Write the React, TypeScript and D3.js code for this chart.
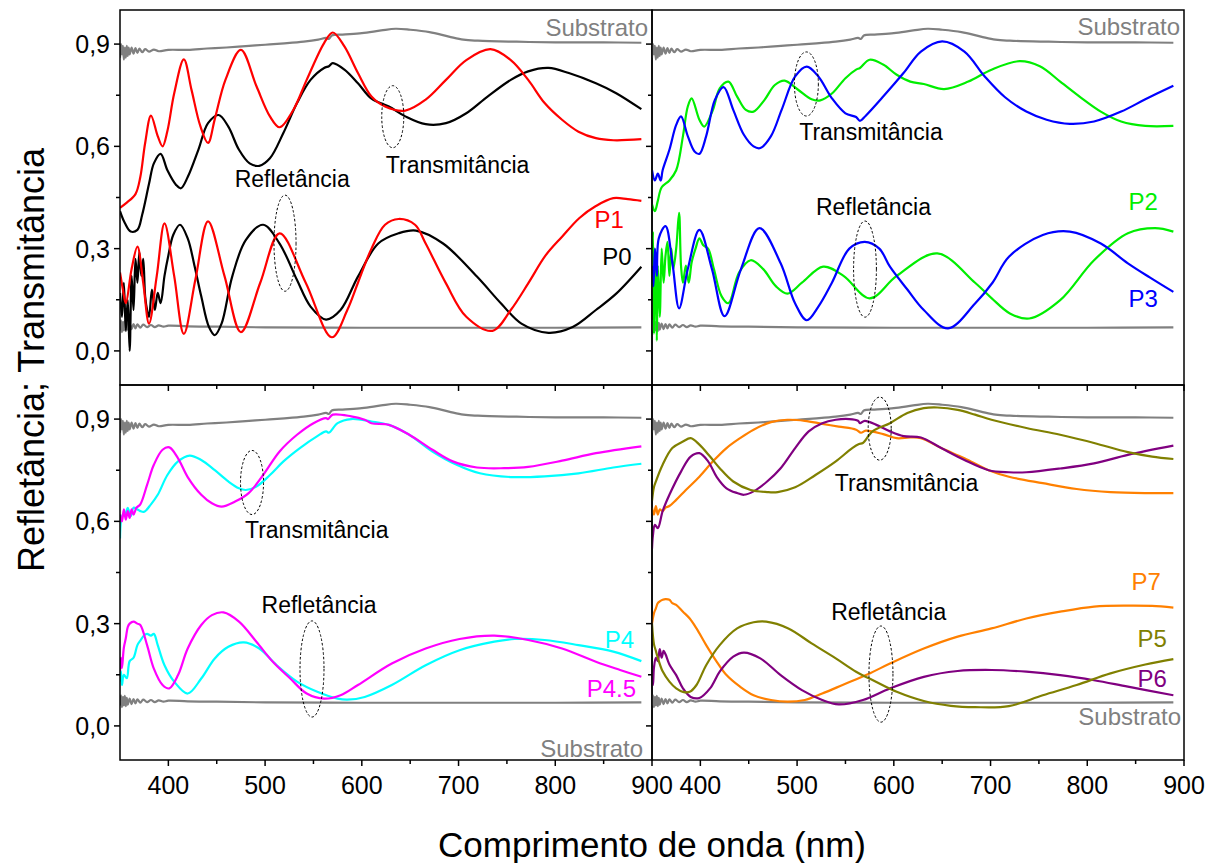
import React from 'react';
import * as d3 from 'd3';

type Pt = [number, number];

const W = 1219;
const H = 863;
const FONT = "'Liberation Sans', Arial, Helvetica, sans-serif";

const X_DOMAIN: Pt = [350, 900];
const Y_DOMAIN: Pt = [-0.1, 1.0];
const X_MAJOR = [400, 500, 600, 700, 800, 900];
const X_MINOR = [450, 550, 650, 750, 850];
const Y_MAJOR = [0, 0.3, 0.6, 0.9];
const Y_MINOR = [0.15, 0.45, 0.75];
const X_TITLE = 'Comprimento de onda (nm)';
const Y_TITLE = 'Refletância; Transmitância';

// Substrate (same in every panel)
const SUB_T: Pt[] = [[350,0.86],[351,0.9],[352,0.87],[353,0.895],[354,0.855],[355,0.89],[356,0.86],[357,0.895],[358,0.865],[359,0.89],[360,0.87],[362,0.89],[364,0.872],[366,0.888],[368,0.874],[370,0.887],[373,0.876],[376,0.885],[380,0.878],[385,0.884],[390,0.879],[400,0.883],[420,0.883],[440,0.887],[460,0.89],[480,0.894],[500,0.898],[520,0.902],[540,0.907],[555,0.913],[563,0.918],[566,0.915],[569,0.925],[580,0.928],[600,0.932],[620,0.94],[635,0.945],[650,0.942],[670,0.935],[690,0.922],[705,0.913],[720,0.91],[760,0.907],[800,0.905],[850,0.905],[889,0.904]];
const SUB_R: Pt[] = [[350,0.06],[351,0.09],[352,0.055],[353,0.085],[354,0.06],[355,0.088],[356,0.058],[357,0.082],[358,0.062],[360,0.08],[362,0.064],[364,0.079],[366,0.066],[368,0.078],[371,0.068],[374,0.077],[378,0.07],[382,0.076],[386,0.07],[390,0.075],[395,0.071],[400,0.074],[420,0.072],[450,0.071],[500,0.069],[600,0.068],[700,0.068],[800,0.068],[889,0.069]];

// Top-left: P0 (black), P1 (red)
const P0_T: Pt[] = [[350,0.41],[355,0.375],[361,0.35],[368,0.355],[373,0.4],[380,0.49],[385,0.55],[392,0.578],[399,0.53],[408,0.487],[413,0.477],[420,0.51],[431,0.59],[441,0.668],[452,0.692],[462,0.658],[473,0.59],[484,0.55],[494,0.543],[505,0.565],[519,0.64],[533,0.727],[547,0.795],[561,0.83],[566,0.835],[570,0.844],[582,0.825],[596,0.785],[610,0.74],[628,0.717],[645,0.688],[666,0.665],[687,0.668],[708,0.697],[730,0.746],[754,0.795],[772,0.82],[793,0.83],[814,0.815],[842,0.785],[863,0.756],[889,0.709]];
const P1_T: Pt[] = [[350,0.42],[357,0.435],[366,0.46],[371,0.51],[376,0.61],[382,0.69],[389,0.63],[394,0.6],[399,0.645],[406,0.755],[416,0.855],[424,0.765],[433,0.66],[441,0.61],[448,0.68],[459,0.795],[475,0.883],[491,0.777],[505,0.688],[515,0.656],[529,0.706],[543,0.795],[561,0.903],[570,0.934],[582,0.893],[596,0.815],[610,0.746],[624,0.717],[645,0.705],[666,0.737],[687,0.795],[708,0.853],[733,0.885],[754,0.853],[772,0.795],[789,0.727],[807,0.678],[824,0.643],[842,0.624],[860,0.618],[889,0.621]];
const P0_R: Pt[] = [[350,0.17],[352,0.1],[354,0.2],[356,0.06],[358,0.15],[360,0.0],[362,0.22],[364,0.12],[366,0.27],[368,0.2],[370,0.29],[372,0.22],[374,0.27],[376,0.16],[378,0.12],[380,0.1],[383,0.18],[386,0.12],[389,0.17],[392,0.14],[396,0.22],[400,0.28],[405,0.34],[412,0.37],[420,0.33],[427,0.25],[434,0.16],[442,0.07],[448,0.046],[455,0.08],[466,0.218],[480,0.325],[498,0.37],[515,0.315],[533,0.208],[547,0.13],[563,0.092],[578,0.12],[596,0.218],[617,0.315],[638,0.345],[656,0.353],[684,0.315],[719,0.218],[744,0.139],[765,0.08],[793,0.053],[818,0.07],[842,0.12],[863,0.168],[889,0.247]];
const P1_R: Pt[] = [[350,0.23],[353,0.18],[356,0.14],[362,0.24],[368,0.306],[374,0.2],[380,0.08],[388,0.22],[396,0.374],[406,0.22],[416,0.05],[428,0.21],[441,0.38],[458,0.22],[475,0.055],[495,0.2],[515,0.345],[542,0.2],[569,0.04],[585,0.12],[596,0.2],[610,0.3],[624,0.37],[638,0.387],[655,0.37],[666,0.315],[687,0.198],[708,0.1],[735,0.059],[754,0.12],[772,0.198],[790,0.28],[807,0.335],[825,0.39],[842,0.425],[860,0.448],[875,0.445],[889,0.44]];

// Top-right: P2 (green), P3 (blue)
const P2_T: Pt[] = [[350,0.43],[353,0.41],[356,0.44],[360,0.48],[368,0.5],[375,0.53],[382,0.63],[387,0.717],[391,0.741],[399,0.678],[404,0.658],[413,0.707],[420,0.77],[429,0.79],[438,0.746],[447,0.707],[455,0.702],[466,0.735],[477,0.78],[487,0.793],[501,0.766],[515,0.738],[524,0.735],[536,0.755],[550,0.8],[561,0.825],[565,0.83],[575,0.854],[589,0.84],[603,0.81],[617,0.79],[631,0.783],[652,0.768],[677,0.79],[701,0.825],[730,0.85],[751,0.835],[772,0.79],[793,0.744],[814,0.702],[835,0.673],[860,0.66],[889,0.66]];
const P3_T: Pt[] = [[350,0.53],[353,0.5],[356,0.52],[359,0.5],[361,0.53],[368,0.59],[375,0.663],[380,0.688],[387,0.63],[394,0.585],[399,0.578],[406,0.63],[415,0.736],[424,0.774],[434,0.707],[445,0.634],[455,0.6],[462,0.595],[473,0.63],[484,0.707],[498,0.805],[510,0.834],[522,0.805],[536,0.741],[550,0.697],[561,0.686],[565,0.675],[571,0.69],[589,0.746],[610,0.815],[628,0.878],[650,0.908],[673,0.878],[694,0.805],[715,0.744],[737,0.702],[758,0.678],[782,0.666],[807,0.673],[835,0.702],[860,0.738],[889,0.778]];
const P2_R: Pt[] = [[350,0.2],[351,0.35],[352,0.05],[353,0.3],[354,0.2],[355,0.03],[356,0.25],[358,0.1],[360,0.3],[362,0.2],[364,0.28],[366,0.32],[368,0.22],[370,0.3],[372,0.24],[375,0.3],[378,0.405],[380,0.25],[382,0.2],[385,0.25],[388,0.2],[391,0.26],[395,0.3],[399,0.33],[403,0.31],[408,0.3],[414,0.24],[422,0.16],[429,0.14],[440,0.23],[452,0.266],[465,0.24],[478,0.19],[490,0.168],[505,0.2],[527,0.247],[548,0.22],[575,0.154],[603,0.22],[645,0.286],[684,0.2],[701,0.155],[720,0.11],[740,0.095],[772,0.149],[807,0.266],[842,0.345],[870,0.36],[889,0.35]];
const P3_R: Pt[] = [[350,0.25],[351.5,0.19],[353,0.3],[355,0.22],[357,0.33],[364,0.366],[371,0.26],[378,0.125],[387,0.24],[399,0.355],[412,0.24],[425,0.102],[442,0.24],[461,0.36],[483,0.257],[498,0.139],[510,0.09],[522,0.13],[536,0.2],[554,0.3],[570,0.32],[585,0.3],[596,0.247],[614,0.18],[631,0.12],[656,0.066],[684,0.139],[702,0.2],[719,0.276],[754,0.34],[782,0.35],[814,0.315],[842,0.257],[865,0.215],[889,0.173]];

// Bottom-left: P4 (cyan), P4.5 (magenta)
const P4_T: Pt[] = [[350,0.55],[351,0.6],[353,0.62],[356,0.625],[358,0.64],[361,0.615],[364,0.64],[368,0.635],[371,0.63],[375,0.628],[382,0.65],[389,0.678],[399,0.736],[410,0.776],[422,0.793],[434,0.78],[448,0.75],[462,0.717],[473,0.697],[480,0.692],[491,0.702],[505,0.736],[519,0.776],[536,0.815],[554,0.85],[563,0.864],[566,0.86],[575,0.888],[589,0.9],[610,0.893],[628,0.883],[649,0.854],[673,0.805],[698,0.766],[722,0.741],[754,0.73],[789,0.732],[824,0.741],[860,0.758],[889,0.769]];
const P45_T: Pt[] = [[350,0.62],[352,0.6],[354,0.635],[356,0.605],[358,0.63],[360,0.61],[362,0.635],[364,0.62],[367,0.64],[371,0.65],[378,0.707],[385,0.766],[394,0.81],[401,0.817],[410,0.785],[420,0.73],[434,0.678],[445,0.653],[455,0.643],[469,0.658],[483,0.683],[498,0.736],[515,0.805],[533,0.854],[550,0.888],[563,0.903],[565,0.9],[570,0.913],[589,0.908],[603,0.898],[610,0.888],[628,0.883],[649,0.854],[673,0.81],[694,0.776],[719,0.758],[747,0.756],[772,0.76],[807,0.778],[842,0.8],[889,0.82]];
const P4_R: Pt[] = [[350,0.13],[351,0.16],[352,0.12],[354,0.15],[357,0.14],[360,0.19],[364,0.2],[368,0.237],[371,0.25],[375,0.266],[378,0.27],[382,0.265],[385,0.27],[389,0.237],[396,0.178],[406,0.13],[420,0.095],[434,0.139],[448,0.198],[462,0.232],[478,0.245],[494,0.227],[512,0.178],[533,0.13],[554,0.1],[575,0.08],[585,0.077],[603,0.085],[631,0.12],[666,0.178],[701,0.222],[737,0.247],[758,0.255],[789,0.252],[824,0.237],[860,0.218],[889,0.19]];
const P45_R: Pt[] = [[350,0.16],[351,0.2],[352,0.17],[354,0.23],[356,0.257],[358,0.29],[360,0.3],[364,0.306],[368,0.3],[371,0.296],[378,0.237],[385,0.168],[394,0.12],[401,0.11],[410,0.149],[420,0.227],[434,0.296],[445,0.325],[457,0.333],[473,0.306],[491,0.247],[508,0.188],[526,0.139],[543,0.095],[561,0.08],[578,0.09],[596,0.12],[631,0.183],[666,0.227],[701,0.255],[737,0.265],[772,0.252],[807,0.227],[842,0.188],[867,0.164],[889,0.144]];

// Bottom-right: P5 (olive), P6 (purple), P7 (orange)
const P5_T: Pt[] = [[350,0.66],[352,0.7],[354,0.717],[361,0.766],[371,0.815],[382,0.834],[390,0.844],[399,0.825],[410,0.79],[420,0.756],[434,0.717],[452,0.692],[469,0.686],[480,0.686],[498,0.7],[519,0.736],[540,0.776],[557,0.815],[564,0.827],[568,0.83],[578,0.864],[596,0.888],[614,0.918],[631,0.932],[645,0.934],[666,0.927],[684,0.913],[701,0.898],[737,0.874],[772,0.854],[807,0.83],[842,0.803],[867,0.79],[889,0.783]];
const P6_T: Pt[] = [[350,0.52],[351,0.56],[353,0.59],[356,0.58],[361,0.63],[368,0.678],[380,0.746],[390,0.79],[399,0.8],[408,0.776],[417,0.73],[427,0.697],[438,0.683],[445,0.678],[455,0.688],[469,0.717],[483,0.756],[498,0.815],[512,0.864],[526,0.888],[540,0.898],[554,0.9],[563,0.895],[565,0.888],[570,0.895],[582,0.883],[596,0.864],[610,0.85],[628,0.846],[649,0.815],[673,0.78],[698,0.75],[719,0.744],[737,0.744],[772,0.755],[807,0.77],[842,0.795],[889,0.822]];
const P7_T: Pt[] = [[350,0.64],[352,0.62],[354,0.645],[356,0.62],[358,0.635],[361,0.63],[364,0.64],[368,0.645],[375,0.663],[385,0.692],[399,0.731],[413,0.776],[427,0.815],[441,0.844],[455,0.869],[473,0.891],[490,0.898],[508,0.895],[526,0.886],[543,0.878],[561,0.869],[566,0.86],[571,0.866],[589,0.856],[603,0.844],[617,0.846],[628,0.844],[649,0.815],[673,0.785],[698,0.75],[719,0.731],[754,0.712],[789,0.695],[824,0.686],[860,0.683],[889,0.683]];
const P5_R: Pt[] = [[350,0.3],[352,0.24],[354,0.22],[356,0.2],[361,0.16],[368,0.13],[375,0.11],[382,0.1],[389,0.1],[396,0.12],[406,0.178],[420,0.237],[438,0.286],[455,0.304],[468,0.306],[491,0.286],[515,0.242],[540,0.198],[561,0.159],[582,0.129],[603,0.1],[631,0.073],[659,0.059],[684,0.055],[719,0.058],[754,0.09],[789,0.12],[824,0.154],[860,0.18],[889,0.196]];
const P6_R: Pt[] = [[350,0.14],[351,0.12],[352,0.17],[354,0.2],[356,0.19],[358,0.225],[360,0.2],[362,0.22],[364,0.21],[368,0.18],[375,0.149],[382,0.11],[390,0.085],[399,0.082],[410,0.11],[420,0.159],[434,0.203],[445,0.215],[462,0.198],[483,0.149],[505,0.105],[526,0.076],[543,0.063],[568,0.076],[596,0.11],[631,0.144],[666,0.161],[701,0.164],[737,0.159],[772,0.149],[807,0.134],[842,0.115],[889,0.09]];
const P7_R: Pt[] = [[350,0.3],[352,0.33],[354,0.345],[356,0.36],[358,0.365],[361,0.37],[364,0.372],[368,0.37],[371,0.36],[375,0.355],[382,0.335],[389,0.315],[396,0.286],[406,0.237],[417,0.188],[427,0.149],[441,0.115],[455,0.09],[473,0.076],[490,0.071],[508,0.076],[526,0.095],[547,0.12],[575,0.154],[596,0.183],[631,0.227],[666,0.262],[701,0.286],[737,0.315],[772,0.335],[807,0.35],[842,0.353],[867,0.352],[889,0.347]];

const GRAY = '#808080';
const C = {
  black: '#000000', red: '#FF0000', green: '#00EE00', blue: '#0000FF',
  cyan: '#00FFFF', magenta: '#FF00FF', olive: '#808000', purple: '#800080', orange: '#FF8000',
};

type Series = { data: Pt[]; color: string };
type Label = { text: string; x: number; y: number; color: string; anchor: string; size: number };
type Ell = { cx: number; cy: number; rx: number; ry: number };
type Panel = {
  x0: number; x1: number; y0: number; y1: number;
  xLabels: boolean; yLabels: boolean;
  series: Series[]; labels: Label[]; ellipses: Ell[];
};

const panels: Panel[] = [
  {
    x0: 120, x1: 652, y0: 10, y1: 385, xLabels: false, yLabels: true,
    series: [
      { data: SUB_T, color: GRAY }, { data: SUB_R, color: GRAY },
      { data: P0_T, color: C.black }, { data: P0_R, color: C.black },
      { data: P1_T, color: C.red }, { data: P1_R, color: C.red },
    ],
    labels: [
      { text: 'Substrato', x: 896, y: 0.924, color: GRAY, anchor: 'end', size: 24 },
      { text: 'Refletância', x: 528, y: 0.482, color: '#000', anchor: 'middle', size: 23 },
      { text: 'Transmitância', x: 699, y: 0.522, color: '#000', anchor: 'middle', size: 23 },
      { text: 'P1', x: 871, y: 0.36, color: C.red, anchor: 'end', size: 24 },
      { text: 'P0', x: 879, y: 0.252, color: C.black, anchor: 'end', size: 24 },
    ],
    ellipses: [
      { cx: 632, cy: 0.687, rx: 11.4, ry: 0.091 },
      { cx: 520.6, cy: 0.316, rx: 11.4, ry: 0.141 },
    ],
  },
  {
    x0: 652, x1: 1184, y0: 10, y1: 385, xLabels: false, yLabels: false,
    series: [
      { data: SUB_T, color: GRAY }, { data: SUB_R, color: GRAY },
      { data: P2_T, color: C.green }, { data: P2_R, color: C.green },
      { data: P3_T, color: C.blue }, { data: P3_R, color: C.blue },
    ],
    labels: [
      { text: 'Substrato', x: 896, y: 0.927, color: GRAY, anchor: 'end', size: 24 },
      { text: 'Transmitância', x: 576.4, y: 0.619, color: '#000', anchor: 'middle', size: 23 },
      { text: 'Refletância', x: 579, y: 0.399, color: '#000', anchor: 'middle', size: 23 },
      { text: 'P2', x: 873, y: 0.413, color: C.green, anchor: 'end', size: 24 },
      { text: 'P3', x: 873, y: 0.128, color: C.blue, anchor: 'end', size: 24 },
    ],
    ellipses: [
      { cx: 509.6, cy: 0.783, rx: 12.4, ry: 0.094 },
      { cx: 570.2, cy: 0.24, rx: 11.8, ry: 0.141 },
    ],
  },
  {
    x0: 120, x1: 652, y0: 385, y1: 760, xLabels: true, yLabels: true,
    series: [
      { data: SUB_T, color: GRAY }, { data: SUB_R, color: GRAY },
      { data: P4_T, color: C.cyan }, { data: P4_R, color: C.cyan },
      { data: P45_T, color: C.magenta }, { data: P45_R, color: C.magenta },
    ],
    labels: [
      { text: 'Transmitância', x: 553.4, y: 0.551, color: '#000', anchor: 'middle', size: 23 },
      { text: 'Refletância', x: 555.8, y: 0.331, color: '#000', anchor: 'middle', size: 23 },
      { text: 'P4', x: 881.4, y: 0.228, color: C.cyan, anchor: 'end', size: 24 },
      { text: 'P4.5', x: 883.5, y: 0.084, color: C.magenta, anchor: 'end', size: 24 },
      { text: 'Substrato', x: 890.7, y: -0.092, color: GRAY, anchor: 'end', size: 24 },
    ],
    ellipses: [
      { cx: 486.5, cy: 0.714, rx: 11.9, ry: 0.094 },
      { cx: 548.5, cy: 0.167, rx: 12.4, ry: 0.141 },
    ],
  },
  {
    x0: 652, x1: 1184, y0: 385, y1: 760, xLabels: true, yLabels: false,
    series: [
      { data: SUB_T, color: GRAY }, { data: SUB_R, color: GRAY },
      { data: P7_T, color: C.orange }, { data: P7_R, color: C.orange },
      { data: P6_T, color: C.purple }, { data: P6_R, color: C.purple },
      { data: P5_T, color: C.olive }, { data: P5_R, color: C.olive },
    ],
    labels: [
      { text: 'Transmitância', x: 613.1, y: 0.688, color: '#000', anchor: 'middle', size: 23 },
      { text: 'Refletância', x: 594.7, y: 0.31, color: '#000', anchor: 'middle', size: 23 },
      { text: 'P7', x: 876.2, y: 0.399, color: C.orange, anchor: 'end', size: 24 },
      { text: 'P5', x: 882.4, y: 0.231, color: C.olive, anchor: 'end', size: 24 },
      { text: 'P6', x: 882.4, y: 0.114, color: C.purple, anchor: 'end', size: 24 },
      { text: 'Substrato', x: 897, y: 0.002, color: GRAY, anchor: 'end', size: 24 },
    ],
    ellipses: [
      { cx: 585.4, cy: 0.872, rx: 11.9, ry: 0.0925 },
      { cx: 586.7, cy: 0.152, rx: 12.4, ry: 0.141 },
    ],
  },
];

const TICK_FONT = 25;

function PanelView({ p, idx }: { p: Panel; idx: number }) {
  const xs = d3.scaleLinear().domain(X_DOMAIN).range([p.x0, p.x1]);
  const ys = d3.scaleLinear().domain(Y_DOMAIN).range([p.y1, p.y0]);
  const line = d3.line<Pt>().x(d => xs(d[0])).y(d => ys(d[1])).curve(d3.curveCatmullRom.alpha(0.5));
  const clipId = `clip${idx}`;
  return (
    <g>
      <defs>
        <clipPath id={clipId}>
          <rect x={p.x0} y={p.y0} width={p.x1 - p.x0} height={p.y1 - p.y0} />
        </clipPath>
      </defs>
      <g clipPath={`url(#${clipId})`}>
        {p.series.map((s, i) => (
          <path key={i} d={line(s.data) || ''} fill="none" stroke={s.color} strokeWidth={2.2} strokeLinejoin="round" />
        ))}
        {p.ellipses.map((e, i) => (
          <ellipse key={i} cx={xs(e.cx)} cy={ys(e.cy)} rx={xs(X_DOMAIN[0] + e.rx) - xs(X_DOMAIN[0])}
            ry={ys(0) - ys(e.ry)} fill="none" stroke="#000" strokeWidth={1} strokeDasharray="2.5,2" />
        ))}
      </g>
      {p.labels.map((l, i) => (
        <text key={i} x={xs(l.x)} y={ys(l.y)} fill={l.color} textAnchor={l.anchor as any}
          fontSize={l.size} fontFamily={FONT}>{l.text}</text>
      ))}
      {Y_MAJOR.map(v => (
        <line key={'ym' + v} x1={p.x0} x2={p.x0 - 6} y1={ys(v)} y2={ys(v)} stroke="#000" strokeWidth={1.5} />
      ))}
      {Y_MINOR.map(v => (
        <line key={'yn' + v} x1={p.x0} x2={p.x0 - 4} y1={ys(v)} y2={ys(v)} stroke="#000" strokeWidth={1.5} />
      ))}
      {X_MAJOR.map(v => (
        <line key={'xm' + v} x1={xs(v)} x2={xs(v)} y1={p.y1} y2={p.y1 + 6} stroke="#000" strokeWidth={1.5} />
      ))}
      {X_MINOR.map(v => (
        <line key={'xn' + v} x1={xs(v)} x2={xs(v)} y1={p.y1} y2={p.y1 + 4} stroke="#000" strokeWidth={1.5} />
      ))}
      {p.yLabels && Y_MAJOR.map(v => (
        <text key={'yl' + v} x={p.x0 - 10} y={ys(v)} dy="0.36em" textAnchor="end" fontSize={TICK_FONT} fontFamily={FONT}>
          {d3.format('.1f')(v).replace('.', ',')}
        </text>
      ))}
      {p.xLabels && X_MAJOR.map(v => (
        <text key={'xl' + v} x={xs(v)} y={p.y1 + 34} textAnchor="middle" fontSize={TICK_FONT} fontFamily={FONT}>
          {v}
        </text>
      ))}
      <rect x={p.x0} y={p.y0} width={p.x1 - p.x0} height={p.y1 - p.y0} fill="none" stroke="#000" strokeWidth={1.5} />
    </g>
  );
}

export default function App() {
  return (
    <svg width={W} height={H} viewBox={`0 0 ${W} ${H}`}
      style={{ position: 'absolute', left: 0, top: 0, background: '#fff', display: 'block' }}>
      <rect x={0} y={0} width={W} height={H} fill="#fff" />
      {panels.map((p, i) => <PanelView key={i} p={p} idx={i} />)}
      <text x={652} y={857} textAnchor="middle" fontSize={35} fontFamily={FONT}>{X_TITLE}</text>
      <text transform="translate(44,360) rotate(-90)" textAnchor="middle" fontSize={36} fontFamily={FONT}>{Y_TITLE}</text>
    </svg>
  );
}
